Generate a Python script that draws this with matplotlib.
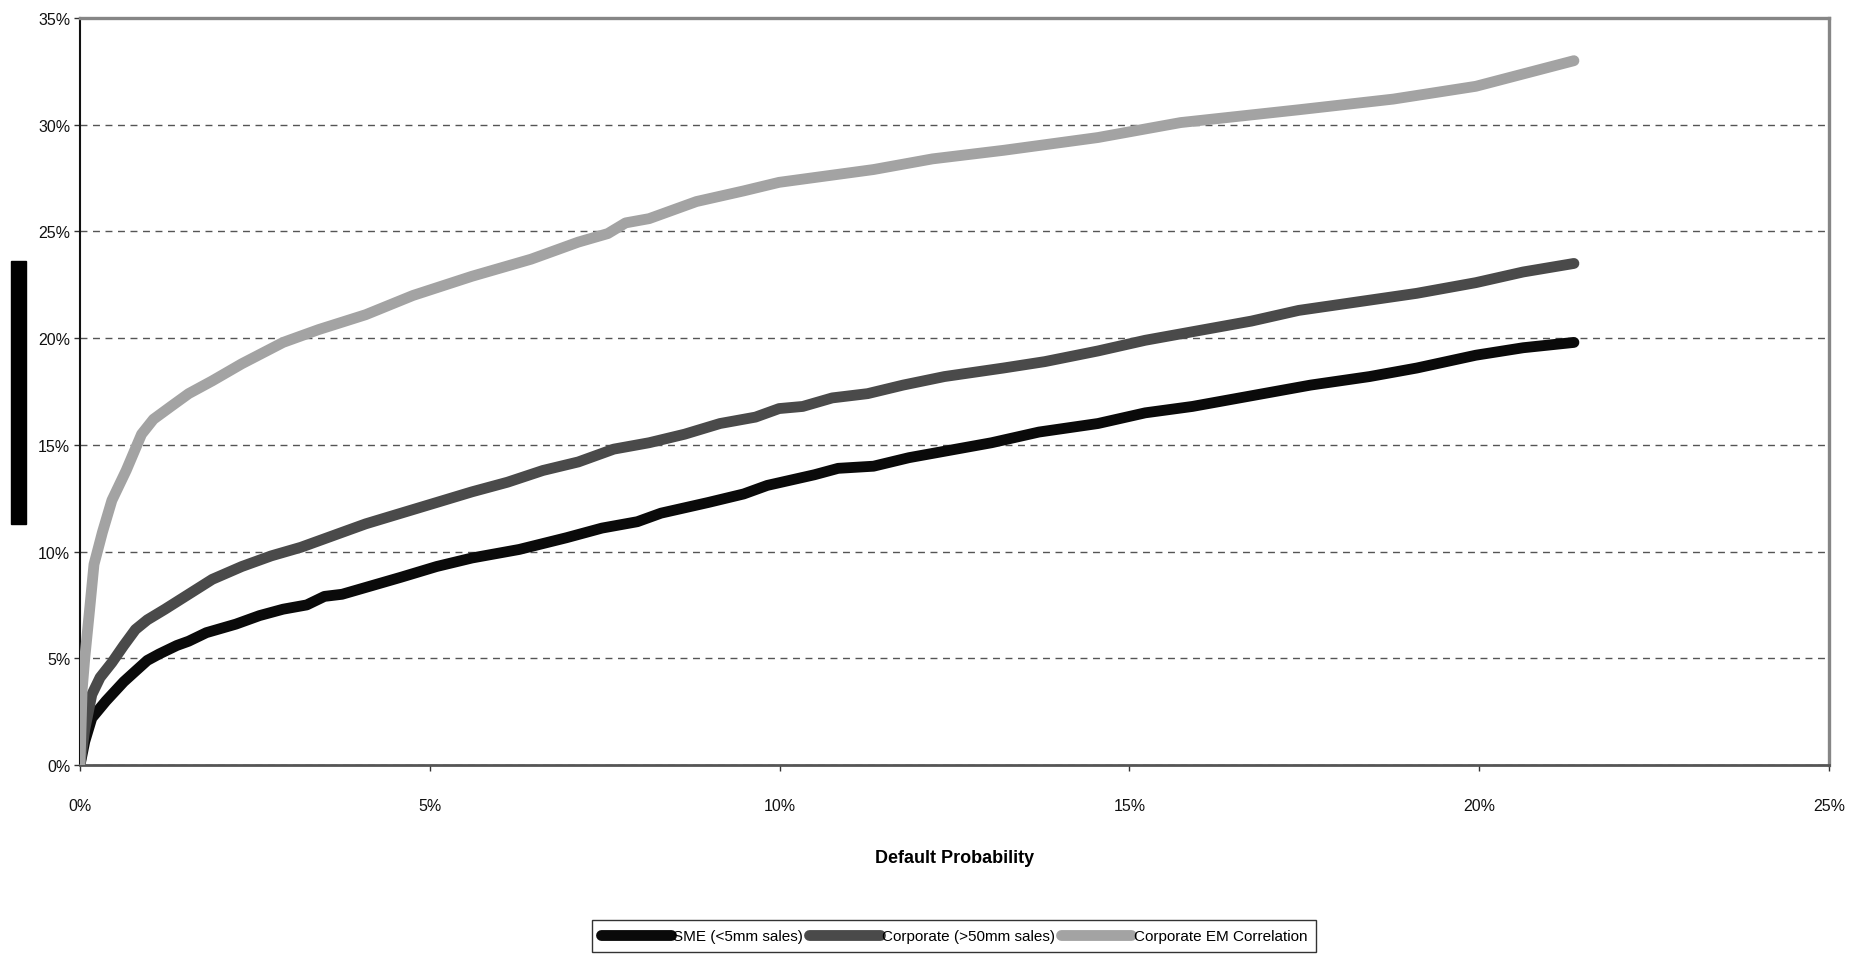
import matplotlib

matplotlib.use("Agg")
import matplotlib.pyplot as plt
from matplotlib import font_manager
from matplotlib.patches import Rectangle
from matplotlib.ticker import FuncFormatter, MultipleLocator

# values (default probability %, correlation %)
sme_pd = [0.0, 0.068, 0.169, 0.371, 0.625, 0.793, 0.962, 1.131, 1.384, 1.553, 1.806,
          2.228, 2.566, 2.903, 3.241, 3.494, 3.747, 4.169, 4.591, 5.098, 5.604, 6.279,
          6.955, 7.461, 7.967, 8.305, 8.980, 9.487, 9.824, 10.499, 10.837, 11.343,
          11.850, 12.356, 13.031, 13.707, 14.551, 15.226, 15.901, 16.745, 17.589,
          18.433, 19.108, 19.952, 20.628, 21.354]
sme_corr = [0.0, 1.1, 2.2, 3.0, 3.9, 4.4, 4.9, 5.2, 5.6, 5.8, 6.2, 6.6, 7.0, 7.3, 7.5,
            7.9, 8.0, 8.4, 8.8, 9.3, 9.7, 10.1, 10.65, 11.1, 11.4, 11.8, 12.3, 12.7,
            13.1, 13.6, 13.9, 14.0, 14.4, 14.7, 15.1, 15.6, 16.0, 16.5, 16.8, 17.3,
            17.8, 18.2, 18.6, 19.2, 19.55, 19.8]

corp_pd = [0.0, 0.068, 0.169, 0.287, 0.456, 0.625, 0.793, 0.962, 1.215, 1.553, 1.891,
           2.313, 2.735, 3.157, 3.410, 3.747, 4.085, 4.591, 5.098, 5.604, 6.111, 6.617,
           7.123, 7.630, 8.136, 8.643, 9.149, 9.655, 9.993, 10.331, 10.753, 11.259,
           11.765, 12.356, 13.200, 13.791, 14.551, 15.226, 15.901, 16.745, 17.420,
           18.264, 19.108, 19.952, 20.628, 21.354]
corp_corr = [0.0, 1.66, 3.3, 4.1, 4.8, 5.6, 6.35, 6.8, 7.3, 8.0, 8.7, 9.3, 9.8, 10.2,
             10.5, 10.9, 11.3, 11.8, 12.3, 12.8, 13.25, 13.8, 14.2, 14.8, 15.1, 15.5,
             16.0, 16.3, 16.7, 16.8, 17.2, 17.4, 17.8, 18.2, 18.6, 18.9, 19.4, 19.9,
             20.3, 20.8, 21.3, 21.7, 22.1, 22.6, 23.1, 23.5]

em_pd = [0.0, 0.03, 0.068, 0.135, 0.20, 0.32, 0.456, 0.66, 0.88, 1.05, 1.30, 1.553,
         1.891, 2.313, 2.903, 3.410, 4.085, 4.760, 5.604, 6.448, 7.123, 7.545, 7.799,
         8.136, 8.811, 9.487, 9.993, 10.668, 11.343, 12.187, 13.200, 14.551, 15.226,
         15.732, 17.420, 18.771, 19.952, 21.354]
em_corr = [0.0, 3.5, 5.0, 7.2, 9.4, 10.9, 12.4, 13.8, 15.5, 16.2, 16.8, 17.4, 18.0,
           18.8, 19.8, 20.4, 21.1, 22.0, 22.9, 23.7, 24.5, 24.9, 25.4, 25.6, 26.4,
           26.9, 27.3, 27.6, 27.9, 28.4, 28.8, 29.4, 29.8, 30.1, 30.7, 31.2, 31.8, 33.0]

series = [
    ("SME (<5mm sales)", sme_pd, sme_corr, "#0a0a0a"),
    ("Corporate (>50mm sales)", corp_pd, corp_corr, "#4a4a4a"),
    ("Corporate EM Correlation", em_pd, em_corr, "#a3a3a3"),
]

installed = {f.name for f in font_manager.fontManager.ttflist}
family = "Liberation Sans Narrow" if "Liberation Sans Narrow" in installed else "Liberation Sans"
plt.rcParams["font.family"] = [family, "DejaVu Sans"]

fig = plt.figure(figsize=(18.51, 9.62), dpi=100)
ax = fig.add_axes((80 / 1851, 1 - 766 / 962, 1749 / 1851, 747 / 962))

for label, x, y, color in series:
    ax.plot(x, y, color=color, lw=7.8, label=label,
            solid_capstyle="round", solid_joinstyle="round", zorder=3)

ax.set_xlim(0, 25)
ax.set_ylim(0, 35)
ax.xaxis.set_major_locator(MultipleLocator(5))
ax.yaxis.set_major_locator(MultipleLocator(5))
pct = FuncFormatter(lambda v, _: f"{v:.0f}%")
ax.xaxis.set_major_formatter(pct)
ax.yaxis.set_major_formatter(pct)
ax.tick_params(axis="both", direction="out", length=4, width=1, color="#333333",
               labelsize=11.5, labelcolor="#111111")
ax.tick_params(axis="x", pad=20)
ax.tick_params(axis="y", pad=3)

ax.grid(axis="y", color="#555555", lw=1.0, ls=(0, (5, 4)), zorder=1)

ax.spines["top"].set_color("#868686")
ax.spines["top"].set_linewidth(2.4)
ax.spines["right"].set_color("#868686")
ax.spines["right"].set_linewidth(2.4)
ax.spines["left"].set_color("#111111")
ax.spines["left"].set_linewidth(1.5)
ax.spines["bottom"].set_color("#555555")
ax.spines["bottom"].set_linewidth(2.0)

ax.set_xlabel("Default Probability", fontsize=13, fontweight="bold", labelpad=26)

# redacted y-axis title block
fig.add_artist(Rectangle((11 / 1851, 1 - 525 / 962), 15 / 1851, 263 / 962,
                         transform=fig.transFigure, color="black"))

leg = fig.legend(loc="upper center", bbox_to_anchor=(954 / 1851, 1 - 921 / 962),
                 ncol=3, fontsize=11, frameon=True, fancybox=False,
                 handlelength=4.6, handletextpad=0.15, columnspacing=0.4,
                 borderpad=0.6, borderaxespad=0)
leg.get_frame().set_edgecolor("black")
leg.get_frame().set_linewidth(1.0)

fig.savefig("out.png", dpi=100)
